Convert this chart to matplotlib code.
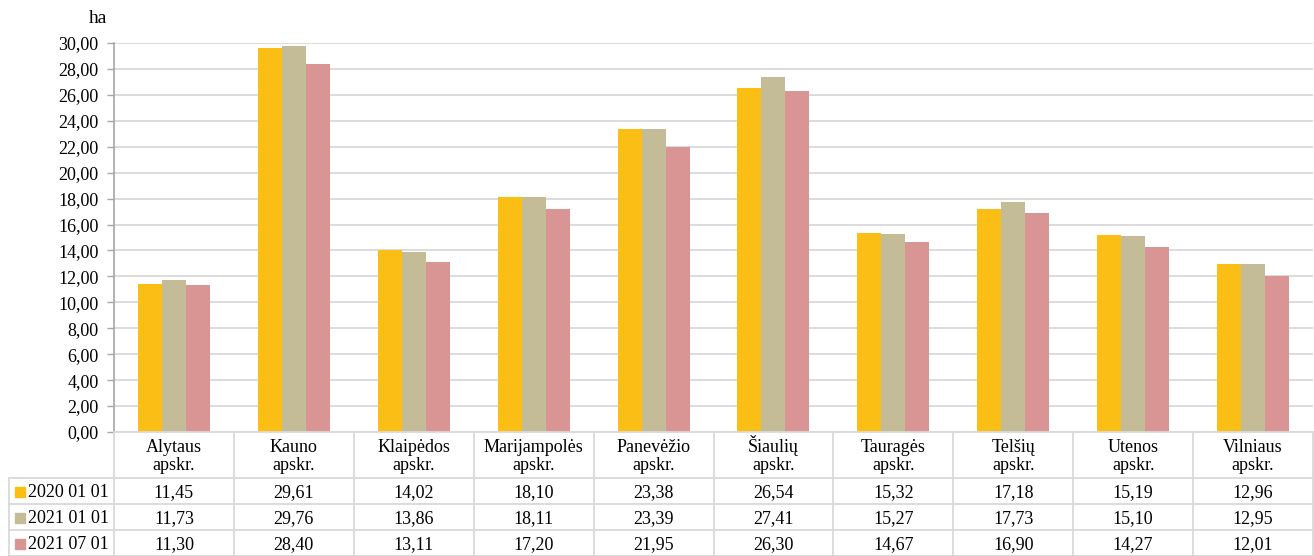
import matplotlib
matplotlib.use("Agg")
import matplotlib.pyplot as plt
import matplotlib.transforms as mtransforms
import numpy as np

categories = ["Alytaus\napskr.", "Kauno\napskr.", "Klaipėdos\napskr.", "Marijampolės\napskr.",
              "Panevėžio\napskr.", "Šiaulių\napskr.", "Tauragės\napskr.", "Telšių\napskr.",
              "Utenos\napskr.", "Vilniaus\napskr."]
series_names = ["2020 01 01", "2021 01 01", "2021 07 01"]
s2020_01 = [11.45, 29.61, 14.02, 18.10, 23.38, 26.54, 15.32, 17.18, 15.19, 12.96]
s2021_01 = [11.73, 29.76, 13.86, 18.11, 23.39, 27.41, 15.27, 17.73, 15.10, 12.95]
s2021_07 = [11.30, 28.40, 13.11, 17.20, 21.95, 26.30, 14.67, 16.90, 14.27, 12.01]
yticks = [0, 2, 4, 6, 8, 10, 12, 14, 16, 18, 20, 22, 24, 26, 28, 30]
colors = ["#FBBE14", "#C4BC96", "#D99594"]

plt.rcParams['font.family'] = ['Liberation Serif', 'DejaVu Serif']
FS = 13

W, H = 1314, 556
fig = plt.figure(figsize=(W / 100, H / 100), dpi=100)
x0, x1 = 114, 1313
ytop, ybot = 43, 432
ax = fig.add_axes([x0 / W, 1 - ybot / H, (x1 - x0) / W, (ybot - ytop) / H])

n = len(categories)
x = np.arange(n)
bw = 0.2
all_series = [s2020_01, s2021_01, s2021_07]
for i, (vals, c) in enumerate(zip(all_series, colors)):
    ax.bar(x + (i - 1) * bw, vals, width=bw, color=c, zorder=3, linewidth=0)

ax.set_xlim(-0.5, n - 0.5)
ax.set_ylim(0, 30)
ax.set_yticks(yticks)
ax.set_yticklabels([f"{v:.2f}".replace(".", ",") for v in yticks], fontsize=FS)
ax.set_xticks([])
ax.yaxis.grid(True, color="#D9D9D9", linewidth=1.3, zorder=0)
ax.tick_params(axis='y', length=5, color="#A6A6A6", width=1, pad=6)
for s in ["top", "right", "bottom"]:
    ax.spines[s].set_visible(False)
ax.spines["left"].set_color("#A6A6A6")
ax.spines["left"].set_linewidth(1.2)
ax.set_axisbelow(True)

fig.text(98 / W, 1 - 23 / H, "ha", fontsize=FS + 1, ha="center", va="baseline")

# data table below the axes
lc = "#D9D9D9"
lw = 1.3
def fy(py):
    return 1 - py / H
def fx(px):
    return px / W

trans = mtransforms.blended_transform_factory(ax.transData, fig.transFigure)
row_edges = [432, 478, 504, 530, 556]
fig.add_artist(plt.Line2D([fx(x0), fx(x1)], [fy(432), fy(432)], color=lc, lw=lw))
for py in row_edges[1:]:
    fig.add_artist(plt.Line2D([fx(9), fx(x1)], [fy(py), fy(py)], color=lc, lw=lw))
for b in np.arange(n + 1) - 0.5:
    ax.add_artist(plt.Line2D([b, b], [fy(432), fy(556)], color=lc, lw=lw,
                             transform=trans, clip_on=False))
fig.add_artist(plt.Line2D([fx(9), fx(9)], [fy(478), fy(556)], color=lc, lw=lw))

# header (two lines, baseline aligned)
for i, cat in enumerate(categories):
    l1, l2 = cat.split("\n")
    ax.text(i, fy(452), l1, transform=trans, ha="center", va="baseline",
            fontsize=FS, clip_on=False)
    ax.text(i, fy(470), l2, transform=trans, ha="center", va="baseline",
            fontsize=FS, clip_on=False)

# rows
for r, (name, vals, c) in enumerate(zip(series_names, all_series, colors)):
    top = row_edges[r + 1]
    base = top + 19
    fig.add_artist(plt.Rectangle((fx(15), fy(top + 19)), 10 / W, 10 / H, color=c,
                                 transform=fig.transFigure))
    fig.text(fx(28), fy(base), name, fontsize=FS, ha="left", va="baseline")
    for i, v in enumerate(vals):
        ax.text(i, fy(base), f"{v:.2f}".replace(".", ","), transform=trans,
                ha="center", va="baseline", fontsize=FS, clip_on=False)

fig.savefig("out.png", dpi=100)
